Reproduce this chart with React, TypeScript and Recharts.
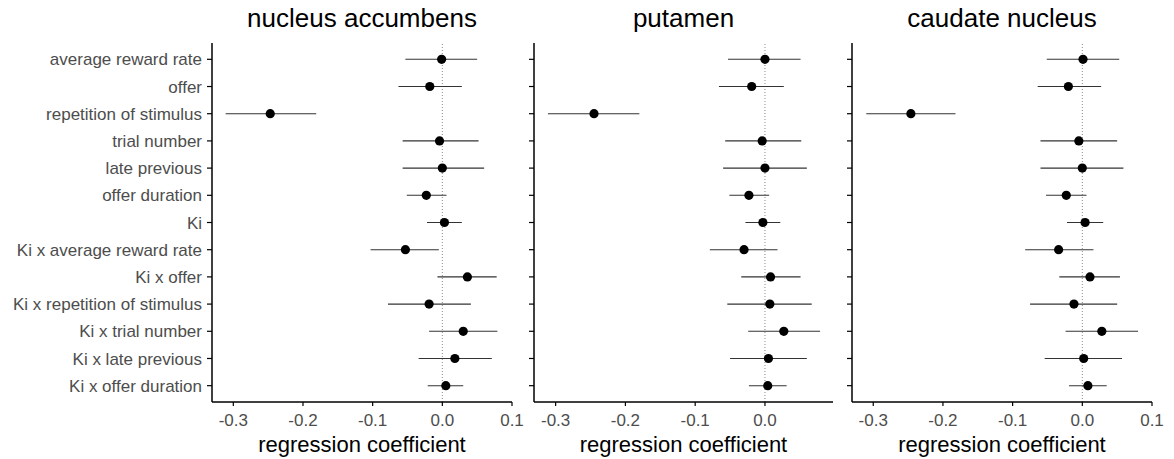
import React from 'react';
import { ScatterChart, Scatter, XAxis, YAxis, ErrorBar, ReferenceLine, Label } from 'recharts';

const categories = [
  'average reward rate',
  'offer',
  'repetition of stimulus',
  'trial number',
  'late previous',
  'offer duration',
  'Ki',
  'Ki x average reward rate',
  'Ki x offer',
  'Ki x repetition of stimulus',
  'Ki x trial number',
  'Ki x late previous',
  'Ki x offer duration',
];

const panelTitles = ['nucleus accumbens', 'putamen', 'caudate nucleus'];

const accumbensEstimate = [-0.001, -0.018, -0.247, -0.004, 0.0, -0.023, 0.003, -0.053, 0.036, -0.019, 0.03, 0.018, 0.005];
const accumbensLower = [-0.053, -0.063, -0.311, -0.057, -0.057, -0.051, -0.022, -0.103, -0.007, -0.078, -0.019, -0.034, -0.021];
const accumbensUpper = [0.05, 0.028, -0.181, 0.052, 0.06, 0.006, 0.028, -0.005, 0.078, 0.041, 0.079, 0.071, 0.03];

const putamenEstimate = [0.0, -0.019, -0.245, -0.004, 0.0, -0.023, -0.003, -0.03, 0.008, 0.007, 0.027, 0.005, 0.004];
const putamenLower = [-0.053, -0.066, -0.311, -0.057, -0.06, -0.051, -0.028, -0.079, -0.034, -0.054, -0.024, -0.05, -0.023];
const putamenUpper = [0.051, 0.027, -0.18, 0.052, 0.06, 0.006, 0.022, 0.018, 0.051, 0.067, 0.079, 0.06, 0.031];

const caudateEstimate = [0.001, -0.02, -0.246, -0.005, 0.0, -0.023, 0.004, -0.034, 0.011, -0.012, 0.028, 0.002, 0.008];
const caudateLower = [-0.051, -0.064, -0.31, -0.06, -0.06, -0.052, -0.022, -0.082, -0.033, -0.075, -0.024, -0.054, -0.019];
const caudateUpper = [0.053, 0.027, -0.182, 0.05, 0.059, 0.006, 0.03, 0.016, 0.054, 0.05, 0.08, 0.057, 0.035];

const ticksFull = [-0.3, -0.2, -0.1, 0.0, 0.1];
const ticksShort = [-0.3, -0.2, -0.1, 0.0];
const rowTicks = categories.map((_, i) => i);

const FONT = '"Liberation Sans", Arial, sans-serif';
const H = 459;

type PanelProps = {
  title: string;
  est: number[];
  lo: number[];
  hi: number[];
  left: number;
  yAxisWidth: number;
  chartWidth: number;
  marginRight: number;
  domain: [number, number];
  xTicks: number[];
  showLabels: boolean;
};

const Dot = (props: any) => {
  const { cx, cy } = props;
  if (cx == null || cy == null) return null;
  return <circle cx={cx} cy={cy} r={4.6} fill="#000" />;
};

function Panel(p: PanelProps) {
  const data = categories.map((c, i) => ({
    idx: i,
    name: c,
    est: p.est[i],
    err: [p.est[i] - p.lo[i], p.hi[i] - p.est[i]],
  }));
  const plotWidth = p.chartWidth - p.yAxisWidth - p.marginRight;
  return (
    <div style={{ position: 'absolute', left: p.left, top: 0, width: p.chartWidth, height: H }}>
      <div
        style={{
          position: 'absolute',
          left: p.yAxisWidth - 20,
          width: plotWidth + 40,
          top: 5,
          textAlign: 'center',
          fontFamily: FONT,
          fontSize: 26,
          lineHeight: '26px',
          color: '#000',
          whiteSpace: 'nowrap',
        }}
      >
        {p.title}
      </div>
      <ScatterChart
        width={p.chartWidth}
        height={H}
        margin={{ top: 43, right: p.marginRight, bottom: 0, left: 0 }}
        style={{ fontFamily: FONT }}
      >
        <XAxis
          type="number"
          dataKey="est"
          domain={p.domain}
          allowDataOverflow
          ticks={p.xTicks}
          interval={0}
          tickFormatter={(v: number) => v.toFixed(1)}
          height={57}
          tickSize={4}
          tickMargin={8}
          axisLine={{ stroke: '#000', strokeWidth: 1.5 }}
          tickLine={{ stroke: '#000', strokeWidth: 1.2 }}
          tick={{ fill: '#4d4d4d', fontSize: 17, fontFamily: FONT }}
        >
          <Label
            value="regression coefficient"
            position="insideBottom"
            offset={7}
            style={{ fill: '#000', fontSize: 22, fontFamily: FONT }}
          />
        </XAxis>
        <YAxis
          type="number"
          dataKey="idx"
          domain={[-0.6, 12.6]}
          reversed
          allowDataOverflow
          ticks={rowTicks}
          interval={0}
          width={p.yAxisWidth}
          tickSize={5}
          tickMargin={5}
          tickFormatter={(i: number) => (p.showLabels ? categories[i] : '')}
          axisLine={{ stroke: '#000', strokeWidth: 1.5 }}
          tickLine={{ stroke: '#000', strokeWidth: 1.2 }}
          tick={{ fill: '#4d4d4d', fontSize: 17, fontFamily: FONT }}
        />
        <ReferenceLine x={0} stroke="#8c8c8c" strokeWidth={1} strokeDasharray="1 2" />
        <Scatter data={data} dataKey="est" isAnimationActive={false} shape={<Dot />}>
          <ErrorBar dataKey="err" direction="x" width={0} stroke="#333" strokeWidth={1.1} isAnimationActive={false} />
        </Scatter>
      </ScatterChart>
    </div>
  );
}

export default function App() {
  return (
    <div style={{ position: 'absolute', left: 0, top: 0, width: 1174, height: H, background: '#fff' }}>
      <Panel
        title={panelTitles[0]}
        est={accumbensEstimate}
        lo={accumbensLower}
        hi={accumbensUpper}
        left={0}
        yAxisWidth={212}
        chartWidth={530}
        marginRight={18}
        domain={[-0.3306, 0.1]}
        xTicks={ticksFull}
        showLabels={true}
      />
      <Panel
        title={panelTitles[1]}
        est={putamenEstimate}
        lo={putamenLower}
        hi={putamenUpper}
        left={520}
        yAxisWidth={14}
        chartWidth={330}
        marginRight={17}
        domain={[-0.331, 0.0975]}
        xTicks={ticksShort}
        showLabels={false}
      />
      <Panel
        title={panelTitles[2]}
        est={caudateEstimate}
        lo={caudateLower}
        hi={caudateUpper}
        left={838}
        yAxisWidth={14}
        chartWidth={336}
        marginRight={22}
        domain={[-0.3305, 0.1]}
        xTicks={ticksFull}
        showLabels={false}
      />
    </div>
  );
}
